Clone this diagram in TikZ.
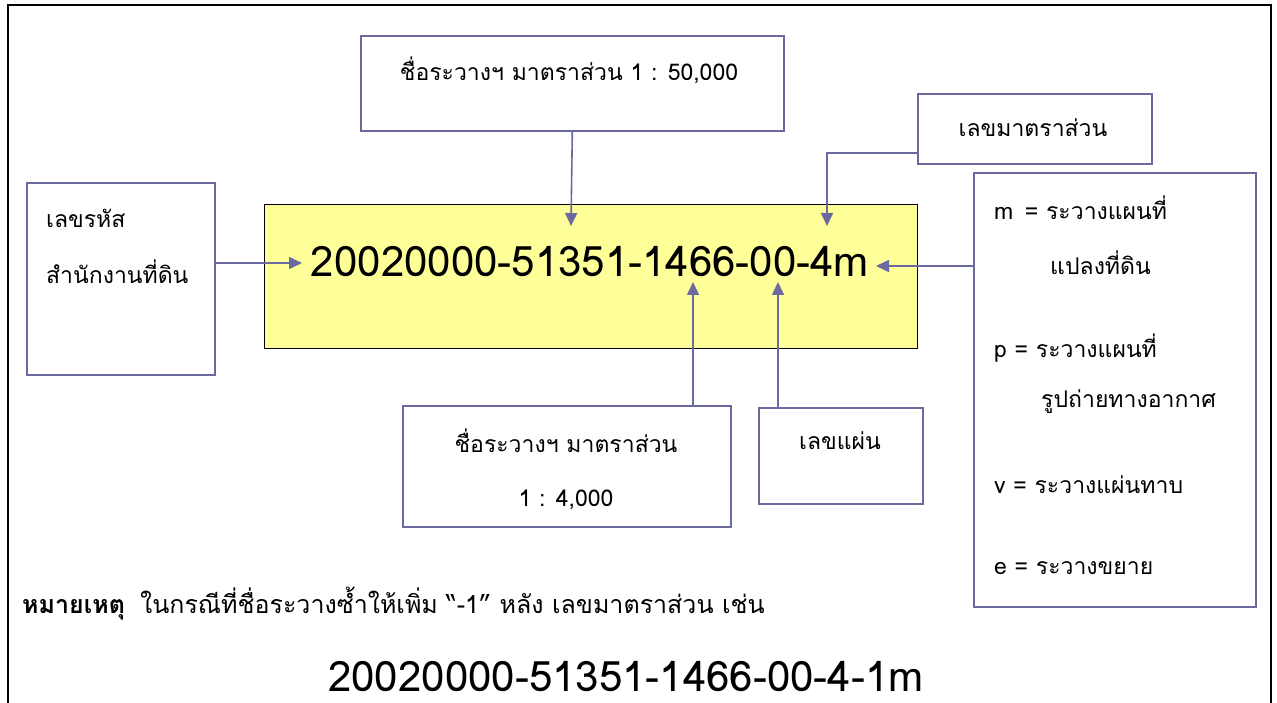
\documentclass[tikz,border=0pt]{standalone}
\usepackage{fontspec}
\setmainfont[Script=Thai]{Loma}
\usetikzlibrary{arrows.meta}
\definecolor{boxc}{RGB}{106,106,160}
\definecolor{yel}{RGB}{255,255,153}
\tikzset{
  box/.style={draw=boxc, line width=1.6pt, rectangle, inner sep=0pt, anchor=north west},
  lbl/.style={inner sep=0pt, font=\fontsize{23}{26}\selectfont},
  big/.style={inner sep=0pt, font=\fontsize{42}{46}\selectfont},
  arr/.style={draw=boxc, line width=1.6pt, -{Triangle[length=13pt,width=12pt]}}
}
\begin{document}
\begin{tikzpicture}[x=1pt,y=-1pt]
\useasboundingbox (0,0) rectangle (1277,703);
\draw[line width=2pt] (8,715) -- (8,5) -- (1271,5) -- (1271,715);
% boxes
\node[box, minimum width=423pt, minimum height=95pt] (top) at (360,35) {};
\node[box, minimum width=234pt, minimum height=70pt] (scale) at (917,93) {};
\node[box, minimum width=188pt, minimum height=192pt] (office) at (26,182) {};
\node[box, draw=black, fill=yel, line width=1.4pt, minimum width=653pt, minimum height=144pt] (main) at (264,204) {};
\node[box, minimum width=282pt, minimum height=434pt] (type) at (973,172) {};
\node[box, minimum width=328pt, minimum height=121pt] (name4) at (402,405) {};
\node[box, minimum width=164pt, minimum height=96pt] (sheet) at (758,407) {};
% texts
\node[lbl] (t1) at (569,70) {ชื่อระวางฯ มาตราส่วน 1 : 50,000};
\node[lbl] (t2) at (1033,128) {เลขมาตราส่วน};
\node[lbl, anchor=west] (t3) at (46,218) {เลขรหัส};
\node[lbl, anchor=west] (t4) at (46,272) {สำนักงานที่ดิน};
\node[big] (num) at (590,262) {20020000-51351-1466-00-4m};
\node[lbl, anchor=west] (m1) at (994,208) {m\, = ระวางแผนที่};
\node[lbl, anchor=west] (m2) at (1050,263) {แปลงที่ดิน};
\node[lbl, anchor=west] (p1) at (994,348) {p = ระวางแผนที่};
\node[lbl, anchor=west] (p2) at (1041,402) {รูปถ่ายทางอากาศ};
\node[lbl, anchor=west] (v1) at (994,485) {v = ระวางแผ่นทาบ};
\node[lbl, anchor=west] (e1) at (994,568) {e = ระวางขยาย};
\node[lbl] (n1) at (566,441) {ชื่อระวางฯ มาตราส่วน};
\node[lbl] (n2) at (566,500) {1 : 4,000};
\node[lbl] (s1) at (840,441) {เลขแผ่น};
\node[lbl, anchor=west, font=\fontsize{25}{28}\selectfont] (note) at (22,604) {\textbf{หมายเหตุ}\hspace{0.6em}ในกรณีที่ชื่อระวางซ้ำให้เพิ่ม “-1” หลัง เลขมาตราส่วน เช่น};
\node[big, text depth=0pt, anchor=base] (num2) at (626,691) {20020000-51351-1466-00-4-1m};
% arrow ends
\coordinate (a1) at (571,226);
\coordinate (a2) at (827,226);
\coordinate (a3) at (302,263);
\coordinate (a4) at (876,266);
\coordinate (a5) at (693,282);
\coordinate (a6) at (778,282);
\coordinate (k2) at (827,153);
% connectors
\draw[arr] (top.south) -- (a1);
\draw[arr] (scale.west |- k2) -- (k2) -- (a2);
\draw[arr] (office.east |- a3) -- (a3);
\draw[arr] (type.west |- a4) -- (a4);
\draw[arr] (name4.north -| a5) -- (a5);
\draw[arr] (sheet.north -| a6) -- (a6);
\end{tikzpicture}
\end{document}
